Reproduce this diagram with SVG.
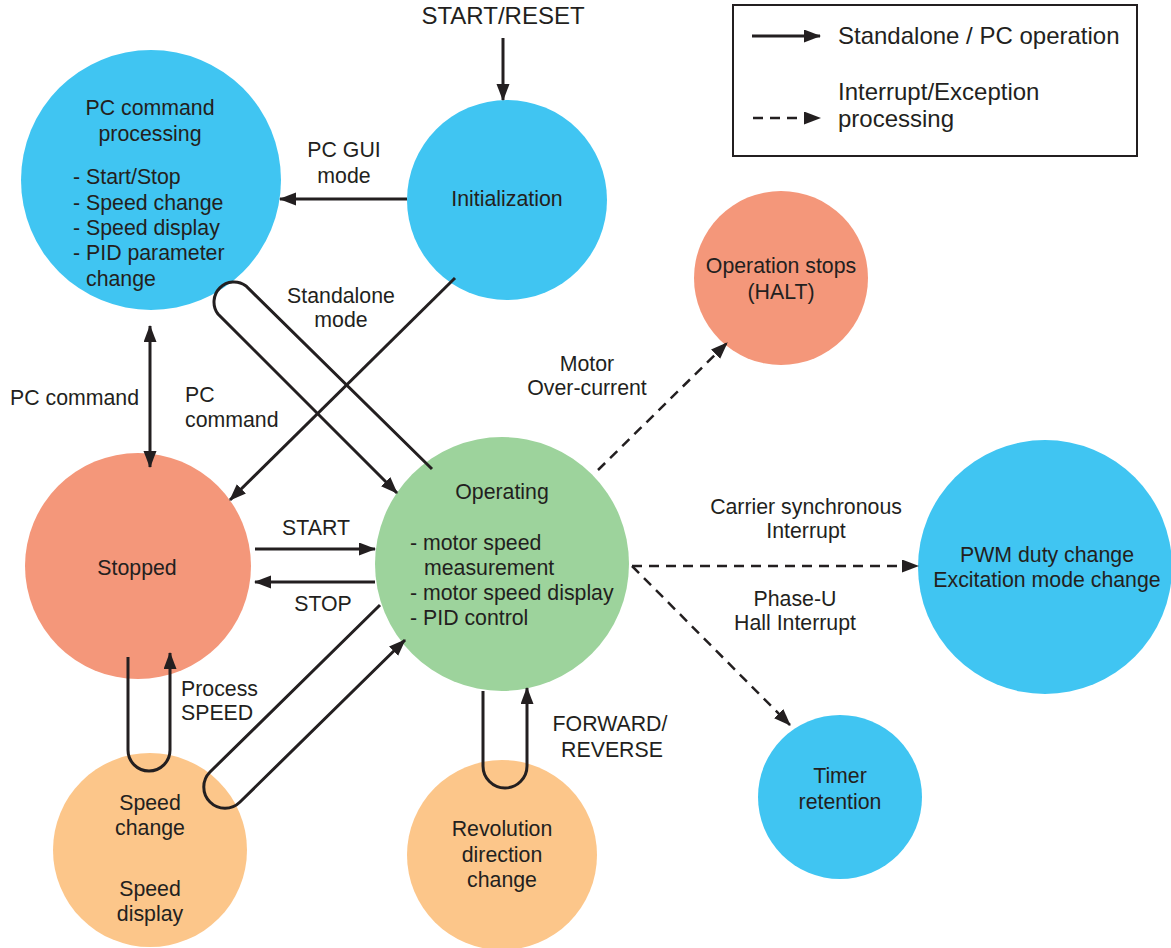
<svg xmlns="http://www.w3.org/2000/svg" width="1171" height="948" viewBox="0 0 1171 948">
  <style>
    text { font-family: "Liberation Sans", Arial, sans-serif; font-size: 21.3px; fill: #231F20; }
    .c { text-anchor: middle; }
    .lg { font-size: 24px; }
    .blue { fill: #40C5F2; }
    .red { fill: #F4977A; }
    .green { fill: #9DD39C; }
    .orange { fill: #FCC68A; }
    .ln { fill: none; stroke: #231F20; stroke-width: 3; }
    .dash { fill: none; stroke: #231F20; stroke-width: 2.5; stroke-dasharray: 10 7; }
  </style>
  <defs>
    <marker id="arr" markerUnits="userSpaceOnUse" markerWidth="18" markerHeight="14" refX="16" refY="6.5" orient="auto-start-reverse" viewBox="0 0 18 14">
      <path d="M0,0 L17,6.5 L0,13 z" fill="#231F20"/>
    </marker>
  </defs>

  <rect width="1171" height="948" fill="#ffffff"/>

  <!-- legend -->
  <g id="legend">
    <rect x="733" y="5" width="404" height="151" fill="none" stroke="#231F20" stroke-width="2"/>
    <line x1="752" y1="36" x2="820" y2="36" class="ln" stroke-width="2" marker-end="url(#arr)"/>
    <text x="838" y="44" class="lg">Standalone / PC operation</text>
    <line x1="753" y1="118" x2="820" y2="118" class="dash" stroke-width="2" stroke-dasharray="7 5" marker-end="url(#arr)"/>
    <text x="838" y="100" class="lg">Interrupt/Exception</text>
    <text x="838" y="127" class="lg">processing</text>
  </g>

  <!-- nodes -->
  <g id="pc-command-processing">
    <circle cx="151" cy="180" r="130" class="blue"/>
    <text x="150" y="115" class="c">PC command</text>
    <text x="150" y="141" class="c">processing</text>
    <text x="73" y="184">- Start/Stop</text>
    <text x="73" y="210">- Speed change</text>
    <text x="73" y="235">- Speed display</text>
    <text x="73" y="260">- PID parameter</text>
    <text x="86" y="286">change</text>
  </g>
  <g id="initialization">
    <circle cx="507" cy="200" r="100" class="blue"/>
    <text x="507" y="206" class="c">Initialization</text>
  </g>
  <g id="operation-stops">
    <circle cx="781" cy="278" r="87" class="red"/>
    <text x="781" y="273" class="c">Operation stops</text>
    <text x="781" y="299" class="c">(HALT)</text>
  </g>
  <g id="stopped">
    <circle cx="138" cy="566" r="113" class="red"/>
    <text x="137" y="575" class="c">Stopped</text>
  </g>
  <g id="operating">
    <circle cx="502" cy="564" r="127" class="green"/>
    <text x="502" y="499" class="c">Operating</text>
    <text x="410" y="550">- motor speed</text>
    <text x="424" y="575">measurement</text>
    <text x="410" y="600">- motor speed display</text>
    <text x="410" y="625">- PID control</text>
  </g>
  <g id="pwm-change">
    <circle cx="1045" cy="567" r="127" class="blue"/>
    <text x="1047" y="562" class="c">PWM duty change</text>
    <text x="1047" y="587" class="c">Excitation mode change</text>
  </g>
  <g id="timer-retention">
    <circle cx="840" cy="797" r="82" class="blue"/>
    <text x="840" y="783" class="c">Timer</text>
    <text x="840" y="809" class="c">retention</text>
  </g>
  <g id="speed-change">
    <circle cx="150" cy="850" r="97" class="orange"/>
    <text x="150" y="810" class="c">Speed</text>
    <text x="150" y="835" class="c">change</text>
    <text x="150" y="896" class="c">Speed</text>
    <text x="150" y="921" class="c">display</text>
  </g>
  <g id="revolution-direction-change">
    <circle cx="502" cy="855" r="95" class="orange"/>
    <text x="502" y="836" class="c">Revolution</text>
    <text x="502" y="862" class="c">direction</text>
    <text x="502" y="887" class="c">change</text>
  </g>

  <!-- connectors -->
  <g id="connectors">
    <line x1="503" y1="38" x2="503" y2="100" class="ln" marker-end="url(#arr)"/>
    <line x1="407" y1="199" x2="280" y2="199" class="ln" marker-end="url(#arr)"/>
    <line x1="455" y1="278" x2="230" y2="500" class="ln" marker-end="url(#arr)"/>
    <line x1="150" y1="326" x2="150" y2="467" class="ln" marker-start="url(#arr)" marker-end="url(#arr)"/>
    <path d="M432,469 L246,286 A20,20 0 0 0 218,314 L397,493" class="ln" marker-end="url(#arr)"/>
    <line x1="255" y1="549" x2="375" y2="549" class="ln" marker-end="url(#arr)"/>
    <line x1="375" y1="582" x2="255" y2="582" class="ln" marker-end="url(#arr)"/>
    <path d="M128,657 L128,750 A21,21 0 0 0 170,750 L170,653" class="ln" marker-end="url(#arr)"/>
    <path d="M380,605 L210,772 A21,21 0 0 0 240,802 L405,640" class="ln" marker-end="url(#arr)"/>
    <path d="M483,691 L483,766 A22,22 0 0 0 527,766 L527,688" class="ln" marker-end="url(#arr)"/>
    <line x1="598" y1="470" x2="727" y2="343" class="dash" marker-end="url(#arr)"/>
    <line x1="632" y1="566" x2="918" y2="566" class="dash" marker-end="url(#arr)"/>
    <line x1="632" y1="566" x2="790" y2="725" class="dash" marker-end="url(#arr)"/>
  </g>

  <!-- connector labels -->
  <g id="labels">
    <text x="503" y="24" class="c lg">START/RESET</text>
    <text x="344" y="157" class="c">PC GUI</text>
    <text x="344" y="183" class="c">mode</text>
    <text x="341" y="303" class="c">Standalone</text>
    <text x="341" y="327" class="c">mode</text>
    <text x="587" y="371" class="c">Motor</text>
    <text x="587" y="395" class="c">Over-current</text>
    <text x="10" y="405">PC command</text>
    <text x="185" y="402">PC</text>
    <text x="185" y="427">command</text>
    <text x="316" y="535" class="c">START</text>
    <text x="323" y="611" class="c">STOP</text>
    <text x="806" y="514" class="c">Carrier synchronous</text>
    <text x="806" y="538" class="c">Interrupt</text>
    <text x="795" y="606" class="c">Phase-U</text>
    <text x="795" y="630" class="c">Hall Interrupt</text>
    <text x="181" y="696">Process</text>
    <text x="181" y="720">SPEED</text>
    <text x="610" y="731" class="c">FORWARD/</text>
    <text x="612" y="757" class="c">REVERSE</text>
  </g>
</svg>
